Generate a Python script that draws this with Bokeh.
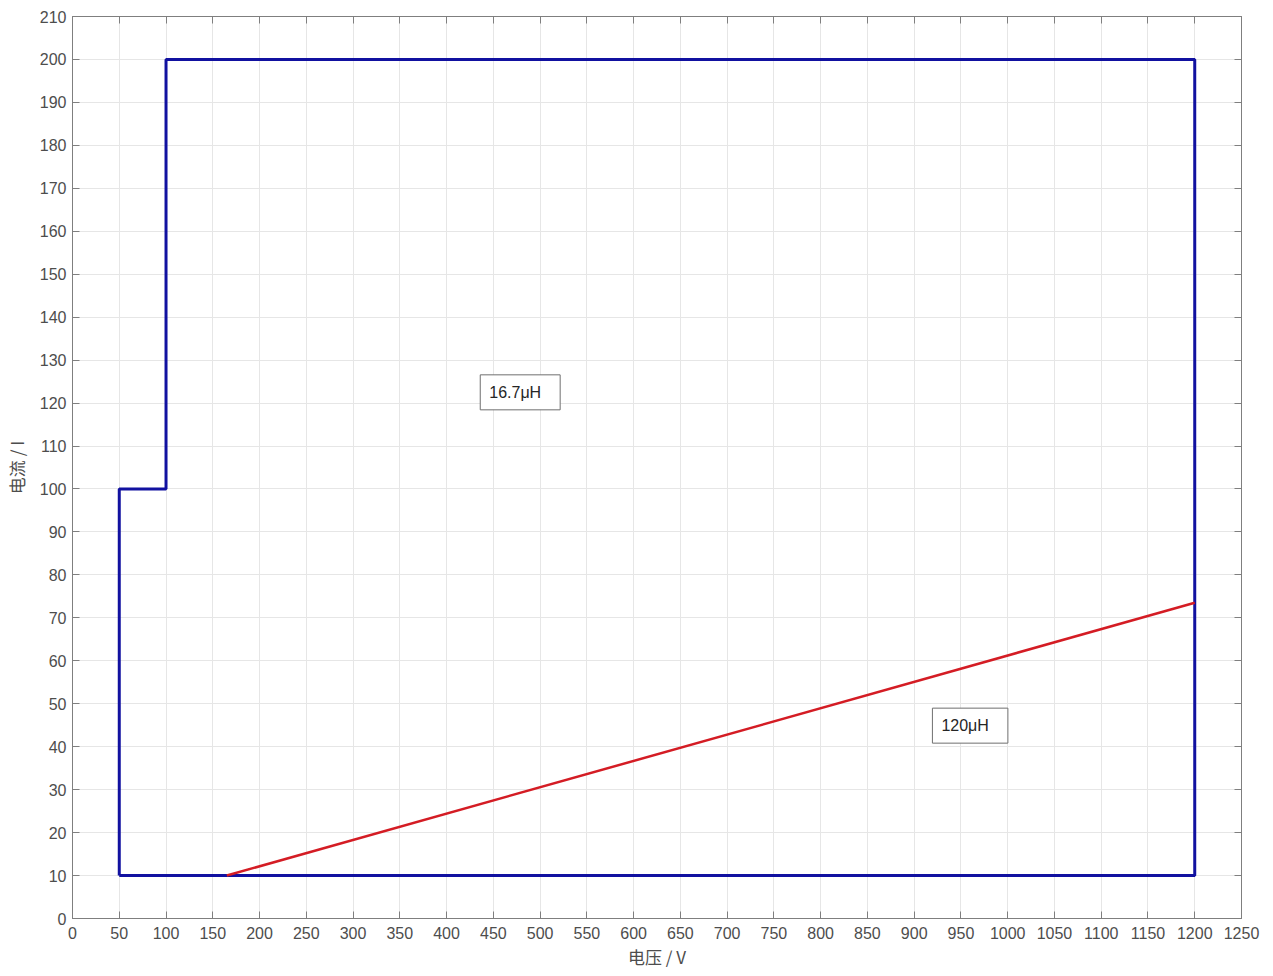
from bokeh.plotting import figure
from bokeh.models import Label, LinearAxis, FixedTicker, Range1d
from bokeh.embed import file_html
from bokeh.resources import INLINE

# data
blue_v = [50, 50, 100, 100, 1200, 1200, 50]
blue_i = [10, 100, 100, 200, 200, 10, 10]
red_v = [165, 1200]
red_i = [10, 73.5]
x_ticks = list(range(0, 1251, 50))
y_ticks = list(range(0, 211, 10))
labels = [("16.7μH", 436, 122.5), ("120μH", 919.5, 44.9)]

p = figure(frame_width=1169, frame_height=902, output_backend="svg", toolbar_location=None,
           x_range=Range1d(0, 1250), y_range=Range1d(0, 210),
           min_border_left=72, min_border_right=24, min_border_top=16, min_border_bottom=40)
p.outline_line_color = "#7f7f7f"
p.outline_line_width = 1
p.background_fill_color = "white"
p.border_fill_color = "white"

p.line(blue_v, blue_i, line_color="#1111a0", line_width=3)
p.line(red_v, red_i, line_color="#d41c24", line_width=2.5)

font = "Liberation Sans"
for ax in [p.xaxis[0], p.yaxis[0]]:
    ax.axis_line_color = "#7f7f7f"
    ax.major_tick_line_color = "#7f7f7f"
    ax.major_tick_in = 7
    ax.major_tick_out = 0
    ax.minor_tick_line_color = None
    ax.major_label_text_font = font
    ax.major_label_text_font_size = "16px"
    ax.major_label_text_color = "#4d4d4d"
    ax.axis_label_text_font = "Noto Sans CJK SC"
    ax.axis_label_text_font_size = "17px"
    ax.axis_label_text_font_style = "normal"
    ax.axis_label_text_color = "#4d4d4d"

p.xaxis[0].ticker = FixedTicker(ticks=x_ticks)
p.yaxis[0].ticker = FixedTicker(ticks=y_ticks)
p.xaxis[0].axis_label = "电压 / V"
p.yaxis[0].axis_label = "电流 / I"
p.xaxis[0].major_label_standoff = 8
p.yaxis[0].major_label_standoff = 6
p.xaxis[0].axis_label_standoff = 2
p.yaxis[0].axis_label_standoff = 8

blank_x = {t: "" for t in x_ticks}
blank_y = {t: "" for t in y_ticks}
top = LinearAxis(ticker=FixedTicker(ticks=x_ticks), major_label_overrides=blank_x,
                 axis_line_color="#7f7f7f", major_tick_line_color="#7f7f7f",
                 major_tick_in=7, major_tick_out=0, minor_tick_line_color=None,
                 major_label_standoff=0)
right = LinearAxis(ticker=FixedTicker(ticks=y_ticks), major_label_overrides=blank_y,
                   axis_line_color="#7f7f7f", major_tick_line_color="#7f7f7f",
                   major_tick_in=7, major_tick_out=0, minor_tick_line_color=None,
                   major_label_standoff=0)
p.add_layout(top, "above")
p.add_layout(right, "right")

p.xgrid.ticker = FixedTicker(ticks=x_ticks)
p.ygrid.ticker = FixedTicker(ticks=y_ticks)
p.grid.grid_line_color = "#e6e6e6"
p.grid.grid_line_width = 1

for txt, x, y in labels:
    p.add_layout(Label(x=x, y=y, text=txt, text_font=font, text_font_size="16px",
                       text_color="#262626", text_align="left", text_baseline="middle",
                       border_line_color="#6f6f6f", border_line_width=1,
                       background_fill_color="white",
                       padding=dict(top=9, right=19, bottom=9, left=9)))

open("out.html", "w").write(file_html(p, INLINE))
